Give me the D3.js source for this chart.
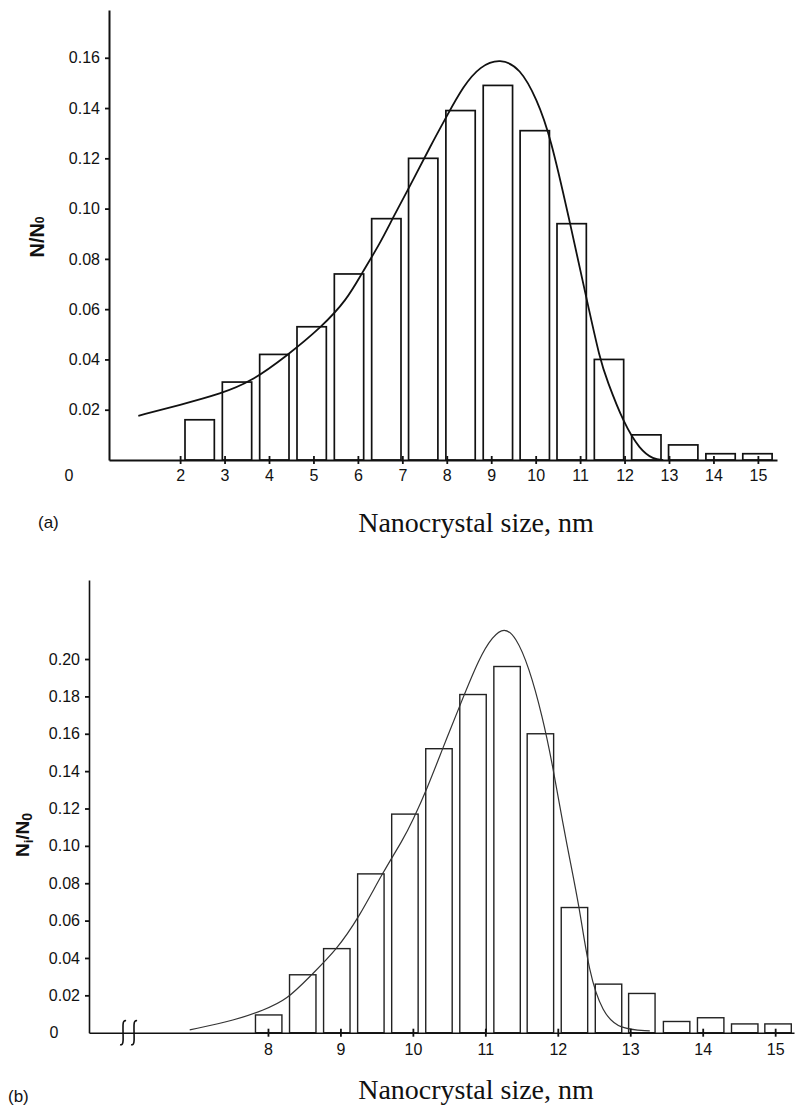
<!DOCTYPE html>
<html>
<head>
<meta charset="utf-8">
<script src="https://cdn.jsdelivr.net/npm/d3@7"></script>
<style>
  body { margin: 0; background: #fff; }
  svg text { font-family: "Liberation Sans", Arial, sans-serif; fill: #111; }
</style>
</head>
<body>
<script>
// ---- panel (a) data ----
const sizesA = [2.44, 3.28, 4.12, 4.96, 5.80, 6.64, 7.47, 8.31, 9.15, 9.98, 10.81, 11.65, 12.49, 13.32, 14.16, 14.99];
const valuesA = [0.016, 0.031, 0.042, 0.053, 0.074, 0.096, 0.120, 0.139, 0.149, 0.131, 0.094, 0.040, 0.010, 0.006, 0.0025, 0.0025];
const fitXA = [1.06, 2.0, 2.94, 3.58, 4.40, 5.19, 5.75, 6.09, 6.5, 6.8, 7.25, 7.63, 8.0, 8.37, 8.75, 9.2, 9.65, 10.03, 10.33, 10.74, 11.15, 11.45, 11.6, 11.98, 12.35, 12.65, 12.87];
const fitYA = [0.0176, 0.0219, 0.0265, 0.031, 0.0414, 0.053, 0.0637, 0.0743, 0.0862, 0.0968, 0.1116, 0.1248, 0.1368, 0.1487, 0.1567, 0.1598, 0.156, 0.1434, 0.1288, 0.097, 0.0637, 0.0398, 0.032, 0.0146, 0.004, 0.0003, 0];
const xTicksA = [2, 3, 4, 5, 6, 7, 8, 9, 10, 11, 12, 13, 14, 15];
const yTicksA = [0.02, 0.04, 0.06, 0.08, 0.10, 0.12, 0.14, 0.16];

// ---- panel (b) data ----
const sizesB = [8.01, 8.48, 8.95, 9.42, 9.89, 10.36, 10.83, 11.30, 11.76, 12.23, 12.70, 13.16, 13.64, 14.11, 14.58, 15.04];
const valuesB = [0.0095, 0.031, 0.045, 0.085, 0.117, 0.152, 0.181, 0.196, 0.160, 0.067, 0.026, 0.021, 0.006, 0.008, 0.0047, 0.0047];
const fitXB = [6.92, 7.56, 7.93, 8.26, 8.60, 8.94, 9.26, 9.58, 9.86, 10.0, 10.19, 10.42, 10.64, 10.92, 11.10, 11.26, 11.42, 11.60, 11.79, 11.93, 12.11, 12.30, 12.43, 12.62, 12.85, 13.27];
const fitYB = [0.0015, 0.0068, 0.012, 0.0175, 0.031, 0.044, 0.062, 0.0855, 0.103, 0.1138, 0.130, 0.153, 0.1743, 0.201, 0.212, 0.217, 0.212, 0.196, 0.169, 0.143, 0.103, 0.0674, 0.032, 0.0104, 0.0018, 0.001];
const xTicksB = [8, 9, 10, 11, 12, 13, 14, 15];
const yTicksB = [0.02, 0.04, 0.06, 0.08, 0.10, 0.12, 0.14, 0.16, 0.18, 0.20];

const svg = d3.select('body').append('svg')
  .attr('width', 795)
  .attr('height', 1108);

function drawPanel(p) {
  const x = d3.scaleLinear().domain(p.xDomain).range(p.xRange);
  const y = d3.scaleLinear().domain(p.yDomain).range(p.yRange);
  const g = svg.append('g');

  // bars
  g.selectAll('rect.bar')
    .data(p.sizes.map((s, i) => ({ s, v: p.values[i] })))
    .enter().append('rect')
    .attr('class', 'bar')
    .attr('x', d => x(d.s - p.barW / 2))
    .attr('width', d => x(d.s + p.barW / 2) - x(d.s - p.barW / 2))
    .attr('y', d => y(d.v))
    .attr('height', d => y(0) - y(d.v))
    .attr('fill', '#fff')
    .attr('stroke', p.barColor)
    .attr('stroke-width', p.barStroke);

  // fitted curve
  const line = d3.line()
    .x(d => x(d[0]))
    .y(d => y(d[1]))
    .curve(d3.curveBasis);
  g.append('path')
    .datum(p.fitX.map((v, i) => [v, p.fitY[i]]))
    .attr('d', line)
    .attr('fill', 'none')
    .attr('stroke', p.curveColor)
    .attr('stroke-width', p.curveStroke);

  // x axis
  const xa = g.append('g')
    .attr('transform', `translate(0,${y(0)})`)
    .call(d3.axisBottom(x).tickValues(p.xTicks).tickFormat(d3.format('d'))
      .tickSize(5).tickPadding(p.xPad).tickSizeOuter(0));
  xa.selectAll('.tick line').attr('y1', -4).attr('y2', 4);

  // y axis
  const ya = g.append('g')
    .attr('transform', `translate(${x(p.xDomain[0])},0)`)
    .call(d3.axisLeft(y).tickValues(p.yTicks).tickFormat(d3.format('.2f'))
      .tickSize(4).tickPadding(5).tickSizeOuter(0));

  [xa, ya].forEach((ax) => {
    ax.select('.domain').attr('stroke', '#111').attr('stroke-width', p.axisStroke);
    ax.selectAll('.tick line').attr('stroke', '#111').attr('stroke-width', 1.8);
    ax.selectAll('text').attr('font-size', 16).attr('fill', '#111')
      .attr('font-family', '"Liberation Sans", Arial, sans-serif');
  });

  // the "0" label sits apart from the axis
  g.append('text')
    .attr('x', p.zeroX)
    .attr('y', y(0) + p.zeroDy)
    .attr('text-anchor', 'middle')
    .attr('dy', '0.35em')
    .attr('font-size', 16)
    .text('0');

  return { x, y, g };
}

// panel (a)
const a = drawPanel({
  sizes: sizesA, values: valuesA, fitX: fitXA, fitY: fitYA,
  xTicks: xTicksA, yTicks: yTicksA,
  xDomain: [0.40, 15.43], xRange: [109, 777],
  yDomain: [0, 0.179], yRange: [460, 10],
  barW: 0.66, barColor: '#111', barStroke: 1.7,
  curveColor: '#111', curveStroke: 1.8,
  axisStroke: 2, xPad: 5, zeroX: 69, zeroDy: 15,
});

a.g.append('text')
  .attr('transform', 'translate(44,237) rotate(-90)')
  .attr('text-anchor', 'middle')
  .attr('font-size', 20)
  .attr('font-weight', 'bold')
  .text('N/N')
  .append('tspan')
  .attr('font-size', 12)
  .text('0');

a.g.append('text')
  .attr('x', 38).attr('y', 528)
  .attr('font-size', 17)
  .text('(a)');

a.g.append('text')
  .attr('x', 476).attr('y', 532)
  .attr('text-anchor', 'middle')
  .attr('font-size', 28)
  .style('font-family', '"Liberation Serif", "Times New Roman", serif')
  .text('Nanocrystal size, nm');

// panel (b)
const b = drawPanel({
  sizes: sizesB, values: valuesB, fitX: fitXB, fitY: fitYB,
  xTicks: xTicksB, yTicks: yTicksB,
  xDomain: [5.53, 15.26], xRange: [89, 794],
  yDomain: [0, 0.2423], yRange: [1032.7, 580],
  barW: 0.365, barColor: '#222', barStroke: 1.4,
  curveColor: '#333', curveStroke: 1.2,
  axisStroke: 1.6, xPad: 6, zeroX: 54, zeroDy: 0,
});

// axis break mark
const breakAt = 6.0;
const by = b.y(0);
[0, 11].forEach((off) => {
  const bx = b.x(breakAt) + off;
  b.g.append('path')
    .attr('d', `M${bx + 3},${by - 12} C${bx - 1},${by - 13} ${bx},${by - 6} ${bx},${by}`
      + ` C${bx},${by + 6} ${bx + 1},${by + 13} ${bx - 3},${by + 12}`)
    .attr('fill', 'none')
    .attr('stroke', '#111')
    .attr('stroke-width', 1.6);
});

const yl = b.g.append('text')
  .attr('transform', 'translate(29,835) rotate(-90)')
  .attr('text-anchor', 'middle')
  .attr('font-size', 19)
  .attr('font-weight', 'bold');
yl.append('tspan').text('N');
yl.append('tspan').attr('font-size', 13).attr('dy', 4).text('i');
yl.append('tspan').attr('dy', -4).text('/N');
yl.append('tspan').attr('font-size', 14).attr('dy', 3).text('0');

b.g.append('text')
  .attr('x', 8).attr('y', 1102)
  .attr('font-size', 17)
  .text('(b)');

b.g.append('text')
  .attr('x', 476).attr('y', 1099)
  .attr('text-anchor', 'middle')
  .attr('font-size', 28)
  .style('font-family', '"Liberation Serif", "Times New Roman", serif')
  .text('Nanocrystal size, nm');
</script>
</body>
</html>
